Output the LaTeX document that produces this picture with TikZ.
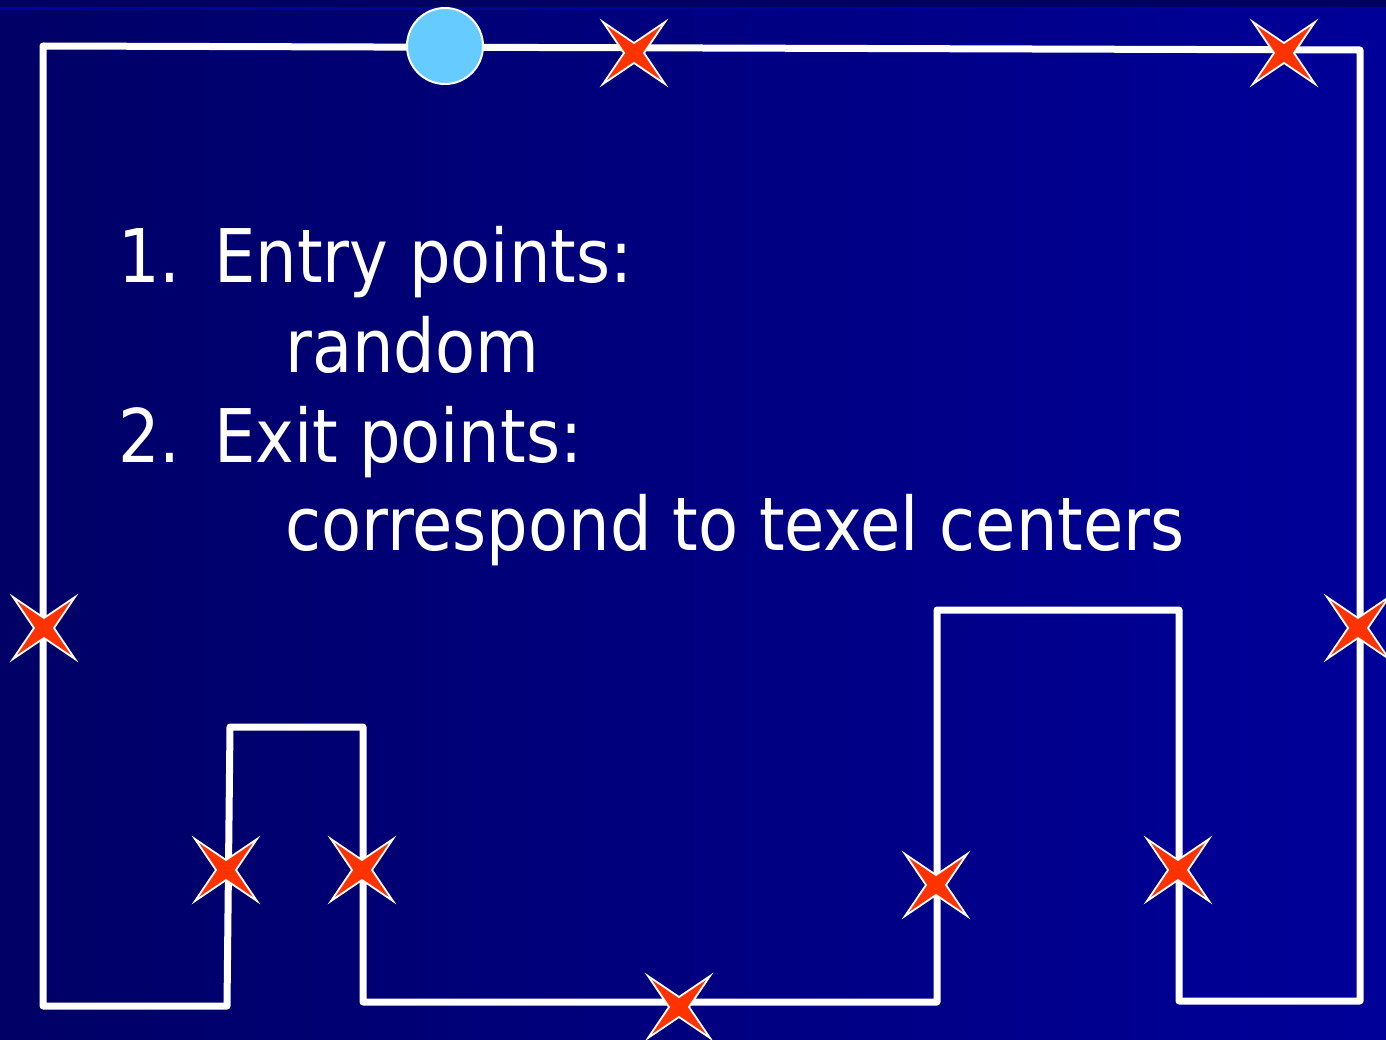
\documentclass[tikz,border=0pt]{standalone}
\usepackage{fontspec}
\setmainfont{DejaVu Sans}
\definecolor{bgleft}{HTML}{000066}
\definecolor{bgright}{HTML}{000099}
\definecolor{bandcol}{HTML}{00005E}
\definecolor{starred}{HTML}{FF3300}
\definecolor{entrycol}{HTML}{66CCFF}
\tikzset{
  outline/.style={draw=white, line width=7pt, line join=round},
  label/.style={anchor=base west, inner sep=0pt, text=white,
    font=\fontsize{74}{89}\selectfont},
  pics/xstar/.style={code={
    \filldraw[fill=starred, draw=white, line width=1.8pt, line join=miter]
      (31,31) -- (0,10) -- (-31,31) -- (-10,0) -- (-31,-31)
      -- (0,-10) -- (31,-31) -- (10,0) -- cycle;
  }}
}
\newcommand{\sq}[1]{\scalebox{0.885}[1]{#1}}
\begin{document}
\begin{tikzpicture}[x=1pt,y=-1pt]
  \useasboundingbox (0,0) rectangle (1386,1040);
  % background
  \shade[left color=bgleft, right color=bgright] (0,0) rectangle (1386,1040);
  \fill[bandcol] (0,0) rectangle (1386,8);
  \shade[left color=blue!67!black, right color=bgright] (0,8) rectangle (1386,10);

  % corners of the boundary path
  \coordinate (tl) at (43,46);
  \coordinate (tr) at (1360,50);
  \coordinate (br) at (1360,1001);
  \coordinate (b1) at (1179,1001);
  \coordinate (t1) at (1179,610);
  \coordinate (t2) at (937,610);
  \coordinate (b2) at (937,1002);
  \coordinate (b3) at (363,1002);
  \coordinate (t3) at (363,727);
  \coordinate (t4) at (230,727);
  \coordinate (b4) at (227,1006);
  \coordinate (bl) at (43,1006);
  \draw[outline] (tl) -- (tr) -- (br) -- (b1) -- (t1) -- (t2) -- (b2)
    -- (b3) -- (t3) -- (t4) -- (b4) -- (bl) -- cycle;

  % entry point
  \node[circle, fill=entrycol, draw=white, line width=2pt,
        minimum size=76pt, inner sep=0pt] (entry) at (445,46) {};

  % exit points
  \pic (e1) at (634,53) {xstar};
  \pic (e2) at (1284,53) {xstar};
  \pic (e3) at (44,628) {xstar};
  \pic (e4) at (1358,628) {xstar};
  \pic (e5) at (226,870) {xstar};
  \pic (e6) at (362,870) {xstar};
  \pic (e7) at (936,885) {xstar};
  \pic (e8) at (1178,870) {xstar};
  \pic (e9) at (679,1007) {xstar};

  % list text
  \node[label] (n1) at (118,283) {\sq{1.}};
  \node[label] (h1) at (214,283) {\sq{Entry points:}};
  \node[label] (d1) at (285,372) {\sq{random}};
  \node[label] (n2) at (118,462) {\sq{2.}};
  \node[label] (h2) at (214,462) {\sq{Exit points:}};
  \node[label] (d2) at (285,550) {\sq{correspond to texel centers}};
\end{tikzpicture}
\end{document}
